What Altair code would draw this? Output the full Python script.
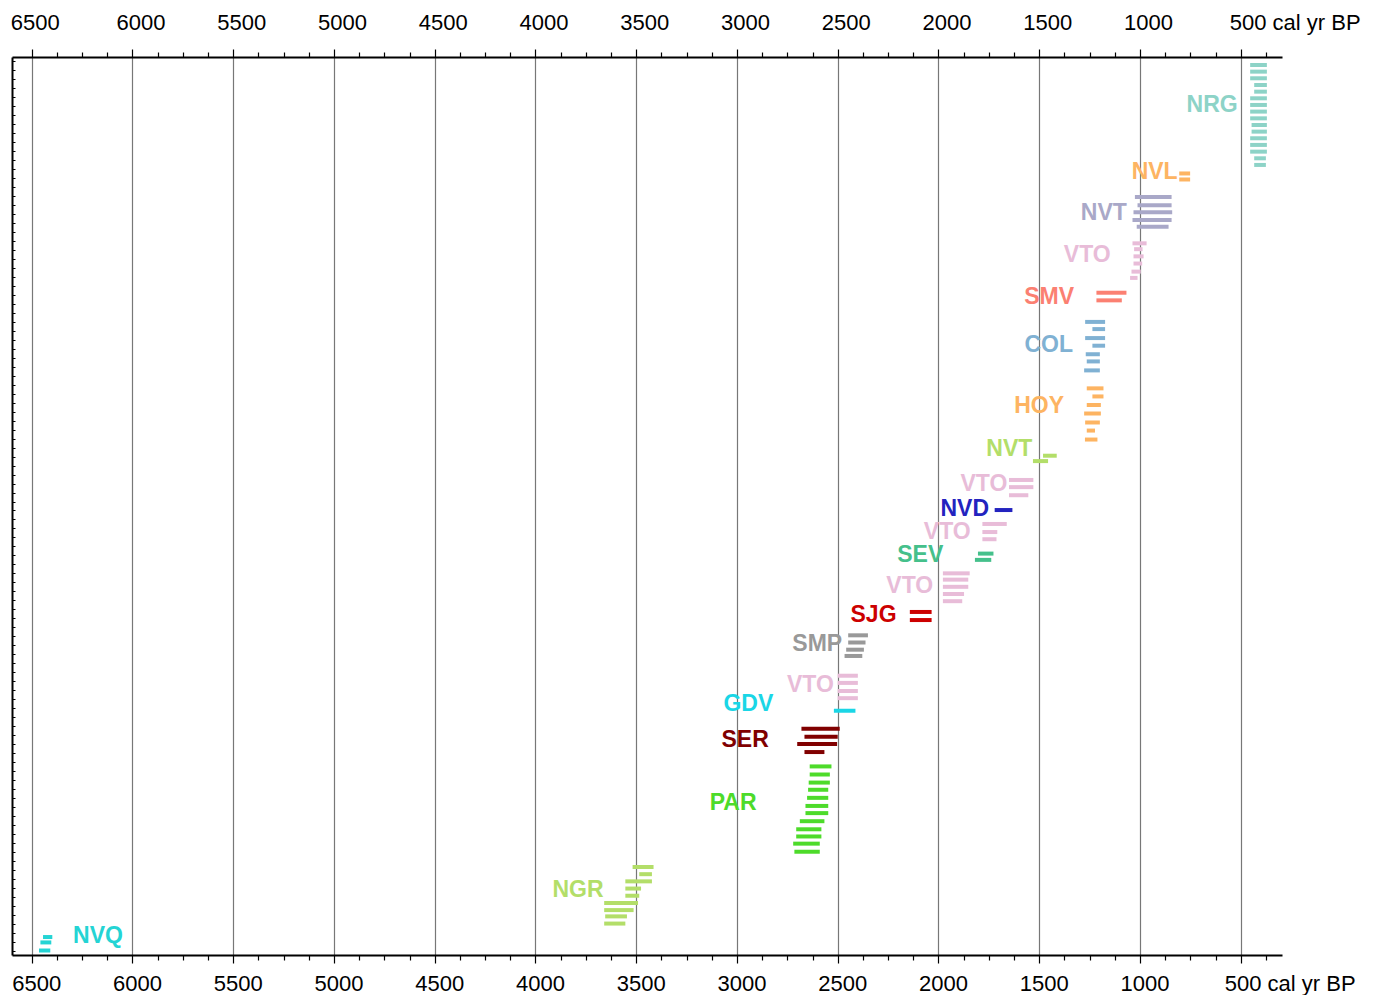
import altair as alt
import pandas as pd

W, H = 1270, 898

# ---- groups (one per labelled cluster of dates) ----
group_ids = ["NRG", "NVL", "NVT1", "VTO1", "SMV", "COL", "HOY", "NVT2", "VTO2", "NVD",
             "VTO3", "SEV", "VTO4", "SJG", "SMP", "VTO5", "GDV", "SER", "PAR", "NGR", "NVQ"]
group_labels = ["NRG", "NVL", "NVT", "VTO", "SMV", "COL", "HOY", "NVT", "VTO", "NVD",
                "VTO", "SEV", "VTO", "SJG", "SMP", "VTO", "GDV", "SER", "PAR", "NGR", "NVQ"]
group_colors = ["#8dd3c7", "#fdb462", "#a9a8c8", "#e8bcd8", "#fb8072", "#80b1d3", "#fdb462",
                "#b3de69", "#e8bcd8", "#2323bf", "#e8bcd8", "#45c08b", "#e8bcd8", "#cc0000",
                "#999999", "#e8bcd8", "#1ad6e6", "#800000", "#4ddb2a", "#b3de69", "#24d4d4"]
label_age = [515, 813, 1065, 1145, 1327, 1332, 1377, 1534, 1658, 1749,
             1840, 1976, 2026, 2208, 2478, 2519, 2820, 2842, 2903, 3662, 6295]
label_pos = [5.35, 12.8, 17.4, 22.05, 26.7, 32.1, 38.9, 43.6, 47.5, 50.3,
             52.9, 55.5, 58.9, 62.1, 65.4, 69.9, 72.0, 76.1, 83.1, 92.8, 97.9]
label_side = ["right"] * 20 + ["left"]

# ---- calibrated age ranges (cal yr BP): oldest, youngest, vertical order ----
bar_pos = {
    "NRG": [0.89, 1.63, 2.37, 3.12, 3.86, 4.60, 5.34, 6.08, 6.83, 7.57, 8.31, 9.05, 9.79, 10.54, 11.28, 12.02],
    "NVL": [12.97, 13.64],
    "NVT1": [15.6, 16.5, 17.3, 18.15, 18.9],
    "VTO1": [20.75, 21.4, 22.2, 23.0, 23.9, 24.6],
    "SMV": [26.25, 27.1],
    "COL": [29.5, 30.3, 31.3, 32.15, 33.1, 33.9, 34.9],
    "HOY": [36.9, 37.8, 38.75, 39.7, 40.7, 41.6, 42.6],
    "NVT2": [44.4, 45.0],
    "VTO2": [47.1, 47.9, 48.8],
    "NVD": [50.45],
    "VTO3": [52.0, 52.9, 53.7],
    "SEV": [55.3, 56.0],
    "VTO4": [57.5, 58.2, 59.0, 59.8, 60.6],
    "SJG": [61.8, 62.7],
    "SMP": [64.4, 65.2, 66.0, 66.7],
    "VTO5": [68.9, 69.7, 70.6, 71.4],
    "GDV": [72.8],
    "SER": [74.8, 75.7, 76.5, 77.4],
    "PAR": [79.0, 79.9, 80.8, 81.6, 82.5, 83.4, 84.2, 85.1, 86.0, 86.8, 87.6, 88.5],
    "NGR": [90.2, 91.0, 91.8, 92.6, 93.4, 94.2, 95.0, 95.7, 96.5],
    "NVQ": [98.0, 98.6, 99.5],
}
bar_old = {
    "NRG": [453, 453, 453, 433, 433, 453, 453, 453, 453, 446, 446, 453, 453, 453, 433, 433],
    "NVL": [805, 805],
    "NVT1": [1025, 1012, 1032, 1037, 1016],
    "VTO1": [1037, 1029, 1032, 1032, 1042, 1049],
    "SMV": [1216, 1216],
    "COL": [1272, 1236, 1272, 1236, 1269, 1264, 1277],
    "HOY": [1264, 1236, 1264, 1277, 1272, 1264, 1273],
    "NVT2": [1481, 1531],
    "VTO2": [1650, 1650, 1650],
    "NVD": [1721],
    "VTO3": [1782, 1782, 1782],
    "SEV": [1804, 1819],
    "VTO4": [1978, 1978, 1978, 1978, 1978],
    "SJG": [2142, 2142],
    "SMP": [2448, 2448, 2458, 2466],
    "VTO5": [2500, 2500, 2500, 2500],
    "GDV": [2519],
    "SER": [2680, 2665, 2701, 2665],
    "PAR": [2639, 2639, 2644, 2647, 2652, 2660, 2660, 2688, 2706, 2706, 2721, 2715],
    "NGR": [3518, 3485, 3554, 3554, 3554, 3659, 3659, 3654, 3659],
    "NVQ": [6444, 6457, 6464],
}
bar_young = {
    "NRG": [370, 370, 370, 370, 370, 370, 370, 370, 370, 370, 370, 370, 370, 370, 375, 375],
    "NVL": [751, 751],
    "NVT1": [843, 843, 840, 843, 858],
    "VTO1": [967, 987, 982, 989, 996, 1012],
    "SMV": [1067, 1090],
    "COL": [1173, 1173, 1173, 1173, 1199, 1199, 1199],
    "HOY": [1181, 1181, 1194, 1194, 1199, 1223, 1211],
    "NVT2": [1413, 1456],
    "VTO2": [1529, 1529, 1554],
    "NVD": [1633],
    "VTO3": [1661, 1708, 1712],
    "SEV": [1727, 1738],
    "VTO4": [1845, 1852, 1852, 1873, 1882],
    "SJG": [2034, 2034],
    "SMP": [2350, 2362, 2370, 2378],
    "VTO5": [2400, 2400, 2400, 2400],
    "GDV": [2412],
    "SER": [2490, 2500, 2503, 2566],
    "PAR": [2531, 2539, 2539, 2547, 2547, 2547, 2547, 2566, 2581, 2581, 2589, 2589],
    "NGR": [3414, 3422, 3422, 3476, 3485, 3491, 3513, 3546, 3554],
    "NVQ": [6398, 6403, 6408],
}

tick_values = [375 + 125 * k for k in range(50)]   # 375 ... 6500
order_ticks = [i + 0.5 for i in range(100)]

rows = []
for g in group_ids:
    for p, a, b in zip(bar_pos[g], bar_old[g], bar_young[g]):
        rows.append({"group": g, "pos": p, "old": a, "young": b})
bars = pd.DataFrame(rows)
labels = pd.DataFrame({"group": group_ids, "label": group_labels, "age": label_age,
                       "pos": label_pos, "side": label_side})

xscale = alt.Scale(domain=[295, 6598], reverse=True, nice=False, zero=False)
yscale = alt.Scale(domain=[0, 100], reverse=True, nice=False, zero=False)
cscale = alt.Scale(domain=group_ids, range=group_colors)

MAJOR = "datum.value % 500 === 0"


def x_axis(orient, pad, off_default, off_first, off_last, grid):
    return alt.Axis(
        orient=orient, values=tick_values, title=None,
        labelExpr=MAJOR + " ? (datum.value === 500 ? '500 cal yr BP' : '' + datum.value) : ''",
        labelFont="Liberation Sans", labelFontSize=22, labelColor="black",
        labelPadding=pad, labelFlush=False, labelOverlap=False, labelBound=False,
        labelOffset={"condition": [{"test": "datum.value === 500", "value": off_last},
                                   {"test": "datum.value === 6500", "value": off_first}],
                     "value": off_default},
        tickSize={"condition": {"test": MAJOR, "value": 8}, "value": 5},
        tickColor="black", tickWidth=1.2,
        domainColor="black", domainWidth=2,
        grid=grid, gridColor="#777777", gridWidth=1.2,
        gridOpacity={"condition": {"test": MAJOR, "value": 1}, "value": 0},
    )


y_axis = alt.Axis(orient="right", offset=-W, values=order_ticks, labels=False, title=None,
                  grid=False, tickSize=3, tickColor="black", tickWidth=1,
                  domainColor="black", domainWidth=2)

rules = alt.Chart(bars).mark_rule(strokeWidth=4).encode(
    x=alt.X("old:Q", scale=xscale, axis=x_axis("bottom", 10, 4.5, 4.5, 49, True)),
    x2="young:Q",
    y=alt.Y("pos:Q", scale=yscale, axis=y_axis),
    color=alt.Color("group:N", scale=cscale, legend=None),
)

text_right = alt.Chart(labels).transform_filter("datum.side === 'right'").mark_text(
    align="right", baseline="middle", font="Liberation Sans", fontWeight="bold", fontSize=23
).encode(
    x=alt.X("age:Q", scale=xscale, axis=x_axis("top", 15, 8, 3, 54, False)),
    y=alt.Y("pos:Q", scale=yscale, axis=None),
    text="label:N",
    color=alt.Color("group:N", scale=cscale, legend=None),
)

text_left = alt.Chart(labels).transform_filter("datum.side === 'left'").mark_text(
    align="left", baseline="middle", font="Liberation Sans", fontWeight="bold", fontSize=23
).encode(
    x=alt.X("age:Q", scale=xscale, axis=None),
    y=alt.Y("pos:Q", scale=yscale, axis=None),
    text="label:N",
    color=alt.Color("group:N", scale=cscale, legend=None),
)

chart = alt.layer(rules, text_right, text_left).resolve_axis(
    x="independent", y="independent"
).properties(
    width=W, height=H,
    autosize=alt.AutoSizeParams(type="none"),
    padding={"left": 4, "top": 49, "right": 84, "bottom": 40},
    background="white",
).configure_view(stroke=None)

chart.save("out.html", embed_options={"renderer": "svg", "actions": False})
